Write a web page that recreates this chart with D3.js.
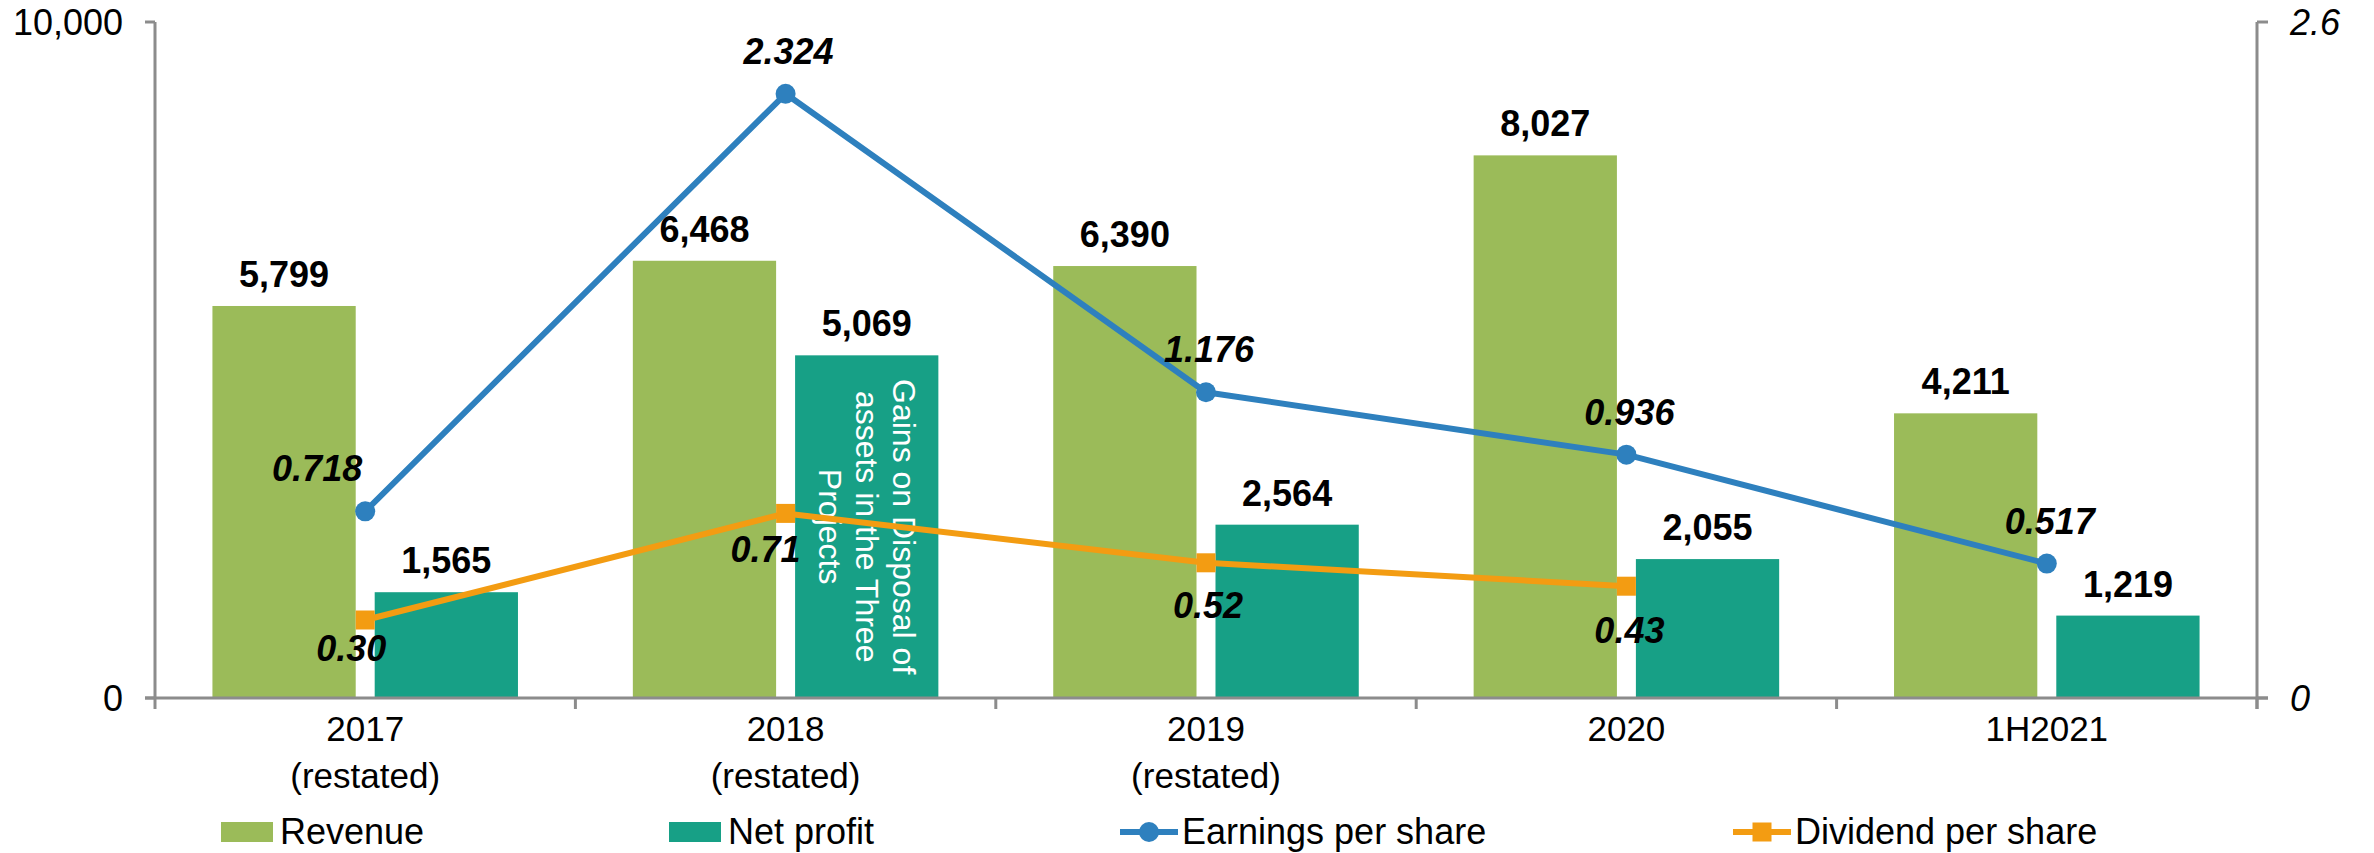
<!DOCTYPE html>
<html>
<head>
<meta charset="utf-8">
<script src="https://cdn.jsdelivr.net/npm/d3@7"></script>
<style>
  html, body { margin: 0; padding: 0; background: #fff; }
  svg { display: block; font-family: "Liberation Sans", Arial, sans-serif; }
</style>
</head>
<body>
<svg id="chart"></svg>
<script>
const categories = ["2017\n(restated)", "2018\n(restated)", "2019\n(restated)", "2020", "1H2021"];
const revenue = [5799, 6468, 6390, 8027, 4211];
const netProfit = [1565, 5069, 2564, 2055, 1219];
const eps = [0.718, 2.324, 1.176, 0.936, 0.517];
const dps = [0.30, 0.71, 0.52, 0.43];
const leftTicks = [0, 10000];
const rightTicks = [0, 2.6];
const barNote = ["Gains on Disposal of", "assets in the Three", "Projects"];

const width = 2374, height = 853;
const plot = { left: 155, right: 2257, top: 22, bottom: 698 };
const colors = { revenue: "#9bbb59", profit: "#17a086", eps: "#2e80be", dps: "#f39c12", axis: "#8c8c8c" };
// small label nudges for dividend labels (x, y)
const dpsNudge = [[-14, 41], [-20, 49], [2, 55], [3, 57]];

const svg = d3.select("#chart").attr("width", width).attr("height", height);

const x = d3.scaleBand().domain(d3.range(categories.length)).range([plot.left, plot.right]);
const xs = d3.scaleBand().domain(["revenue", "profit"]).range([0, x.bandwidth()])
    .paddingInner(0.117).paddingOuter(0.354);
const yL = d3.scaleLinear().domain([0, 10000]).range([plot.bottom, plot.top]);
const yR = d3.scaleLinear().domain([0, 2.6]).range([plot.bottom, plot.top]);
const cx = i => x(i) + x.bandwidth() / 2;
const fmt = d3.format(",d");

// bars
const series = [
  { key: "revenue", values: revenue },
  { key: "profit", values: netProfit }
];
series.forEach(s => {
  const g = svg.append("g");
  g.selectAll("rect").data(s.values).join("rect")
      .attr("x", (d, i) => x(i) + xs(s.key))
      .attr("width", xs.bandwidth())
      .attr("y", d => yL(d))
      .attr("height", d => yL(0) - yL(d))
      .attr("fill", colors[s.key]);
  g.selectAll("text").data(s.values).join("text")
      .attr("x", (d, i) => x(i) + xs(s.key) + xs.bandwidth() / 2)
      .attr("y", d => yL(d) - 19)
      .attr("text-anchor", "middle")
      .attr("font-size", 36).attr("font-weight", "bold")
      .text(fmt);
});

// note inside 2018 net profit bar
const noteX = x(1) + xs("profit") + xs.bandwidth() / 2;
const noteY = (yL(netProfit[1]) + yL(0)) / 2;
const note = svg.append("text")
    .attr("transform", `translate(${noteX},${noteY}) rotate(90)`)
    .attr("text-anchor", "middle").attr("fill", "#fff").attr("font-size", 32);
note.selectAll("tspan").data(barNote).join("tspan")
    .attr("x", 0)
    .attr("y", (d, i) => (i - (barNote.length - 1) / 2) * 37 + 11)
    .text(d => d);

// axes
const axisG = svg.append("g").attr("stroke", colors.axis).attr("stroke-width", 3).attr("fill", "none");
axisG.append("line").attr("x1", plot.left).attr("x2", plot.left).attr("y1", plot.top).attr("y2", plot.bottom);
axisG.append("line").attr("x1", plot.right).attr("x2", plot.right).attr("y1", plot.top).attr("y2", plot.bottom + 11);
axisG.append("line").attr("x1", plot.left - 10).attr("x2", plot.right + 11).attr("y1", plot.bottom).attr("y2", plot.bottom);
axisG.selectAll(".lt").data(leftTicks).join("line")
    .attr("x1", plot.left - 10).attr("x2", plot.left).attr("y1", d => yL(d)).attr("y2", d => yL(d));
axisG.selectAll(".rt").data(rightTicks).join("line")
    .attr("x1", plot.right).attr("x2", plot.right + 11).attr("y1", d => yR(d)).attr("y2", d => yR(d));
axisG.selectAll(".ct").data(d3.range(categories.length + 1)).join("line")
    .attr("x1", i => plot.left + i * x.step()).attr("x2", i => plot.left + i * x.step())
    .attr("y1", plot.bottom).attr("y2", plot.bottom + 11);

svg.append("g").selectAll("text").data(leftTicks).join("text")
    .attr("x", 123).attr("y", d => yL(d) + 13)
    .attr("text-anchor", "end").attr("font-size", 36)
    .text(d => fmt(d));
svg.append("g").selectAll("text").data(rightTicks).join("text")
    .attr("x", 2290).attr("y", d => yR(d) + 13)
    .attr("font-size", 36).attr("font-style", "italic")
    .text(d => d === 0 ? "0" : d3.format(".1f")(d));

const catText = svg.append("g").selectAll("text").data(categories).join("text")
    .attr("text-anchor", "middle").attr("font-size", 35);
catText.selectAll("tspan").data((d, i) => d.split("\n").map(t => ({ t, i }))).join("tspan")
    .attr("x", d => cx(d.i))
    .attr("y", (d, j) => 741 + j * 47)
    .text(d => d.t);

// lines
const line = yS => d3.line().x((d, i) => cx(i)).y(d => yS(d));
svg.append("path").datum(eps).attr("d", line(yR)).attr("fill", "none")
    .attr("stroke", colors.eps).attr("stroke-width", 6).attr("stroke-linejoin", "round");
svg.append("g").selectAll("circle").data(eps).join("circle")
    .attr("cx", (d, i) => cx(i)).attr("cy", d => yR(d)).attr("r", 10).attr("fill", colors.eps);
svg.append("path").datum(dps).attr("d", line(yR)).attr("fill", "none")
    .attr("stroke", colors.dps).attr("stroke-width", 6).attr("stroke-linejoin", "round");
svg.append("g").selectAll("rect").data(dps).join("rect")
    .attr("x", (d, i) => cx(i) - 9.5).attr("y", d => yR(d) - 9.5)
    .attr("width", 19).attr("height", 19).attr("fill", colors.dps);

svg.append("g").selectAll("text").data(eps).join("text")
    .attr("x", (d, i) => i === 0 ? cx(i) - 3 : cx(i) + 3)
    .attr("y", d => yR(d) - 30)
    .attr("text-anchor", (d, i) => i === 0 ? "end" : "middle")
    .attr("font-size", 36).attr("font-weight", "bold").attr("font-style", "italic")
    .text(d => d3.format(".3f")(d));
svg.append("g").selectAll("text").data(dps).join("text")
    .attr("x", (d, i) => cx(i) + dpsNudge[i][0])
    .attr("y", (d, i) => yR(d) + dpsNudge[i][1])
    .attr("text-anchor", "middle")
    .attr("font-size", 36).attr("font-weight", "bold").attr("font-style", "italic")
    .text(d => d3.format(".2f")(d));

// legend
const legend = [
  { name: "Revenue", type: "rect", color: colors.revenue, x: 221 },
  { name: "Net profit", type: "rect", color: colors.profit, x: 669 },
  { name: "Earnings per share", type: "circle", color: colors.eps, x: 1120 },
  { name: "Dividend per share", type: "square", color: colors.dps, x: 1733 }
];
const lg = svg.append("g").selectAll("g").data(legend).join("g")
    .attr("transform", d => `translate(${d.x},832)`);
lg.filter(d => d.type === "rect").append("rect")
    .attr("y", -10).attr("width", 52).attr("height", 20).attr("fill", d => d.color);
lg.filter(d => d.type !== "rect").append("line")
    .attr("x1", 0).attr("x2", 58).attr("stroke", d => d.color).attr("stroke-width", 6);
lg.filter(d => d.type === "circle").append("circle")
    .attr("cx", 29).attr("r", 10).attr("fill", d => d.color);
lg.filter(d => d.type === "square").append("rect")
    .attr("x", 19.5).attr("y", -9.5).attr("width", 19).attr("height", 19).attr("fill", d => d.color);
lg.append("text")
    .attr("x", d => d.type === "rect" ? 59 : 62).attr("y", 12)
    .attr("font-size", 36)
    .text(d => d.name);
</script>
</body>
</html>
